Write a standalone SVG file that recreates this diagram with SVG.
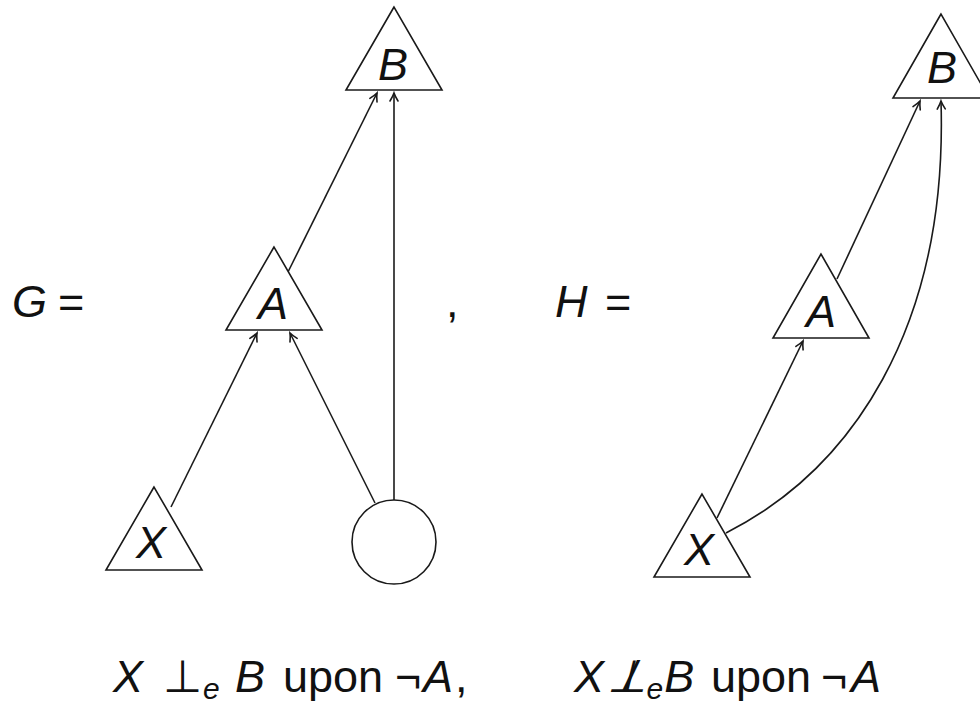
<svg xmlns="http://www.w3.org/2000/svg" width="980" height="706" viewBox="0 0 980 706">
<defs>
<marker id="ah" viewBox="-10 -6 12 12" markerWidth="12" markerHeight="12" refX="0" refY="0" orient="auto" markerUnits="userSpaceOnUse">
<path d="M-8,-4 Q-3,-1 0,0 Q-3,1 -8,4" fill="none" stroke="#1a1a1a" stroke-width="1.6" stroke-linecap="round"/>
</marker>
</defs>
<style>
.n{fill:#fff;stroke:#1a1a1a;stroke-width:1.6}
.e{fill:none;stroke:#1a1a1a;stroke-width:1.6;marker-end:url(#ah)}
.m{font-family:"Liberation Sans",Arial,sans-serif;font-style:italic;font-size:45px;fill:#111}
.r{font-family:"Liberation Sans",Arial,sans-serif;font-size:45px;fill:#111}
.s{font-family:"Liberation Sans",Arial,sans-serif;font-style:italic;font-size:30px;fill:#111}
</style>
<rect width="980" height="706" fill="#fff"/>
<g id="edges">
<path class="e" d="M171,507 L257,333"/>
<path class="e" d="M375,503 L290,333"/>
<path class="e" d="M394,500 L394,93"/>
<path class="e" d="M288,272 L377,93"/>
<path class="e" d="M717,518 L803,341"/>
<path class="e" d="M837,279 L920,101"/>
<path class="e" d="M726,533 C850,470 948,330 941,101"/>
</g>
<g id="G-B"><polygon class="n" points="394,7 346,90 442,90"/><text class="m" x="393" y="80" text-anchor="middle">B</text></g>
<g id="G-A"><polygon class="n" points="274,247 226,330 322,330"/><text class="m" x="273" y="319" text-anchor="middle">A</text></g>
<g id="G-X"><polygon class="n" points="154,487 106,570 202,570"/><text class="m" x="151" y="558" text-anchor="middle">X</text></g>
<g id="G-U"><circle class="n" cx="394" cy="542" r="42"/></g>
<g id="H-B"><polygon class="n" points="941,14 893,98 989,98"/><text class="m" x="942" y="83" text-anchor="middle">B</text></g>
<g id="H-A"><polygon class="n" points="821,254 773,338 869,338"/><text class="m" x="821" y="327" text-anchor="middle">A</text></g>
<g id="H-X"><polygon class="n" points="702,494 654,577 750,577"/><text class="m" x="699" y="565" text-anchor="middle">X</text></g>
<g id="labels">
<text class="m" x="12" y="317">G</text><text class="r" x="58" y="317">=</text>
<text class="m" x="555" y="317">H</text><text class="r" x="605" y="317">=</text>
<text class="r" x="446" y="317">,</text>
<text class="m" x="113" y="692">X</text>
<text class="r" x="163" y="692">⊥</text>
<text class="s" x="203" y="699">e</text>
<text class="m" x="235" y="692">B</text>
<text class="r" x="283" y="692">upon</text>
<text class="r" x="395" y="692">¬</text>
<text class="m" x="423" y="692">A</text>
<text class="r" x="455" y="692">,</text>
<text class="m" x="574" y="692">X<tspan class="r" dx="3">⊥</tspan><tspan class="r" dx="-22">/</tspan><tspan class="s" dx="10" dy="7">e</tspan><tspan dx="1" dy="-7">B</tspan></text>
<text class="r" x="711" y="692">upon</text>
<text class="r" x="821" y="692">¬</text>
<text class="m" x="851" y="692">A</text>
</g>
</svg>
